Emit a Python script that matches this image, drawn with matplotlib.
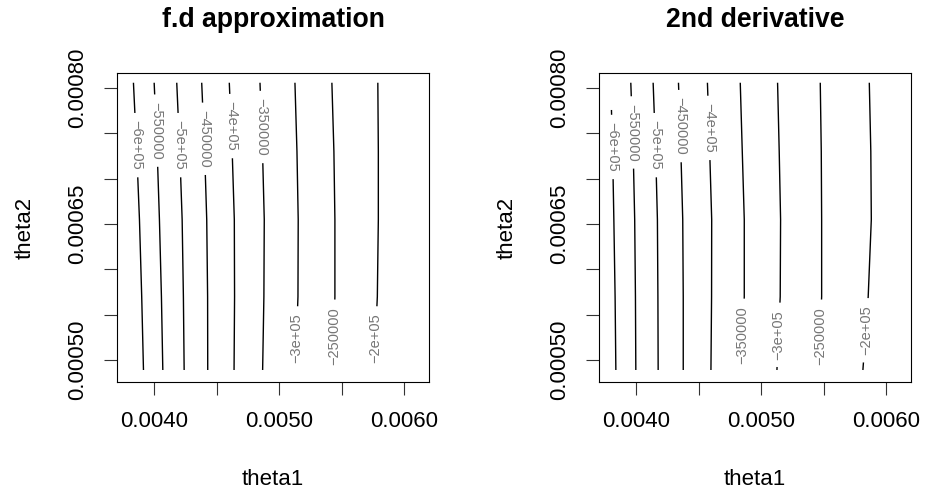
import matplotlib
matplotlib.use('Agg')
import matplotlib.pyplot as plt
import numpy as np

plt.rcParams['font.family'] = ['Liberation Sans', 'DejaVu Sans']

# contour levels (same in both panels) and the text R printed on them
levels = [-6e5, -5.5e5, -5e5, -4.5e5, -4e5, -3.5e5, -3e5, -2.5e5, -2e5]
level_labels = ['\u22126e+05', '\u2212550000', '\u22125e+05', '\u2212450000',
                '\u22124e+05', '\u2212350000', '\u22123e+05', '\u2212250000',
                '\u22122e+05']

theta2_rows = [0.000805, 0.00073, 0.000655, 0.00057, 0.00049]
# the -6e5 line of the 2nd derivative panel starts at the grid edge
deriv_first_rows = [0.000775, 0.00073, 0.000655, 0.00057, 0.00049]

# theta1 of each contour line at theta2_rows (one row per level)
fd_theta1 = [
    [0.003832, 0.003858, 0.003880, 0.003898, 0.003912],
    [0.003998, 0.004022, 0.004040, 0.004056, 0.004067],
    [0.004179, 0.004203, 0.004222, 0.004232, 0.004238],
    [0.004379, 0.004402, 0.004419, 0.004426, 0.004427],
    [0.004600, 0.004623, 0.004640, 0.004642, 0.004638],
    [0.004846, 0.004866, 0.004880, 0.004877, 0.004867],
    [0.005126, 0.005142, 0.005152, 0.005150, 0.005130],
    [0.005422, 0.005438, 0.005446, 0.005446, 0.005430],
    [0.005790, 0.005794, 0.005794, 0.005786, 0.005760],
]
deriv_theta1 = [
    [0.003800, 0.003809, 0.003819, 0.003829, 0.003835],
    [0.003955, 0.003974, 0.003986, 0.003992, 0.003995],
    [0.004134, 0.004154, 0.004168, 0.004172, 0.004174],
    [0.004337, 0.004356, 0.004371, 0.004375, 0.004375],
    [0.004569, 0.004587, 0.004603, 0.004602, 0.004597],
    [0.004832, 0.004848, 0.004864, 0.004864, 0.004840],
    [0.005131, 0.005144, 0.005155, 0.005152, 0.005126],
    [0.005473, 0.005481, 0.005484, 0.005484, 0.005458],
    [0.005866, 0.005878, 0.005882, 0.005857, 0.005815],
]

# theta2 where each label sits on its line
fd_label_theta2 = [0.000737, 0.000753, 0.000737, 0.000744, 0.000758,
                   0.000757, 0.000524, 0.000527, 0.000524]
deriv_label_theta2 = [0.000735, 0.000751, 0.000737, 0.000758, 0.000756,
                      0.000528, 0.000528, 0.000527, 0.000533]

x_ticks = [0.0040, 0.0045, 0.0050, 0.0055, 0.0060]
x_ticklabels = ['0.0040', '', '0.0050', '', '0.0060']
y_ticks = [0.00050, 0.00055, 0.00060, 0.00065, 0.00070, 0.00075, 0.00080]
y_ticklabels = ['0.00050', '', '', '0.00065', '', '', '0.00080']

W, H = 925, 490
fig = plt.figure(figsize=(W / 100, H / 100), dpi=100)
renderer = fig.canvas.get_renderer()


def split_line(xs, ys, y0, y1):
    order = np.argsort(ys)
    xs, ys = xs[order], ys[order]
    segs = []
    if ys[0] < y0:
        yy = np.append(ys[ys < y0], min(y0, ys[-1]))
        segs.append((np.interp(yy, ys, xs), yy))
    if ys[-1] > y1:
        yy = np.insert(ys[ys > y1], 0, max(y1, ys[0]))
        segs.append((np.interp(yy, ys, xs), yy))
    return segs


def draw_panel(left_px, title, lines, rows_list, label_ys):
    ax = fig.add_axes([left_px / W, (H - 382) / H, 312 / W, 309 / H])
    ax.set_xlim(0.0037, 0.0062)
    ax.set_ylim(0.000476, 0.0008165)
    inv = ax.transData.inverted()
    pad = 8
    for xs, ys, lab, ly in zip(lines, rows_list, level_labels, label_ys):
        xs = np.array(xs)
        ys = np.array(ys)
        order = np.argsort(ys)
        lx = np.interp(ly, ys[order], xs[order])
        rot = -90 if ly > 0.00065 else 90
        t = ax.text(lx, ly, lab, rotation=rot, rotation_mode='anchor',
                    ha='center', va='center', fontsize=10.5, color='#767676')
        bb = t.get_window_extent(renderer)
        y0 = inv.transform((bb.x0, bb.y0 - pad))[1]
        y1 = inv.transform((bb.x0, bb.y1 + pad))[1]
        for sx, sy in split_line(xs, ys, y0, y1):
            ax.plot(sx, sy, color='black', lw=1.0)

    ax.set_xticks(x_ticks)
    ax.set_xticklabels(x_ticklabels)
    ax.set_yticks(y_ticks)
    ax.set_yticklabels(y_ticklabels, rotation=90, va='center')
    ax.tick_params(direction='out', length=9.4, width=0.8, labelsize=16,
                   pad=11.5, color='#333333')
    for s in ax.spines.values():
        s.set_linewidth(0.8)

    cx = (left_px + 156) / W
    fig.text(cx, 1 - 27 / H, title, ha='center', va='baseline',
             fontsize=19.2, fontweight='bold')
    fig.text(cx, 1 - 485 / H, 'theta1', ha='center', va='baseline', fontsize=16)
    fig.text((left_px - 86) / W, 1 - 227.5 / H, 'theta2', rotation=90,
             rotation_mode='anchor', ha='center', va='baseline', fontsize=16)
    return ax


draw_panel(117, 'f.d approximation', fd_theta1, [theta2_rows] * 9, fd_label_theta2)
draw_panel(599, '2nd derivative', deriv_theta1,
           [deriv_first_rows] + [theta2_rows] * 8, deriv_label_theta2)

fig.savefig('out.png', dpi=100)
